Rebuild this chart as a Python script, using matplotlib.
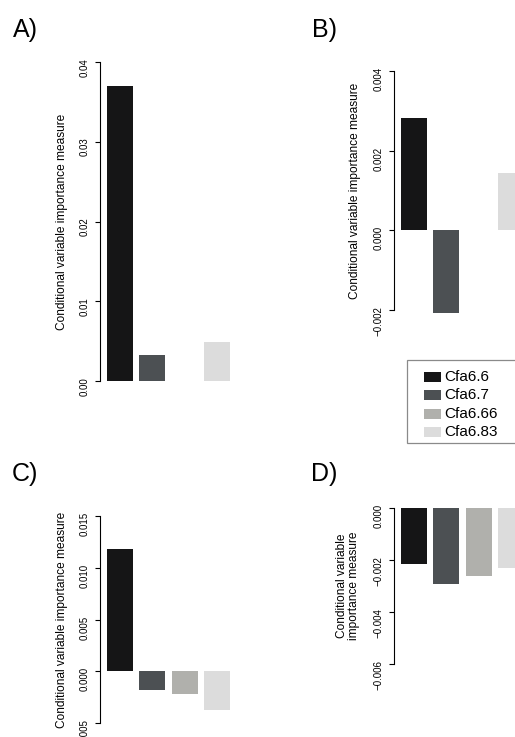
import numpy as np
import matplotlib
matplotlib.use("Agg")
import matplotlib.pyplot as plt
from matplotlib.patches import Rectangle

plt.rcParams["font.family"] = ["Liberation Sans", "DejaVu Sans"]

markers = ["Cfa6.6", "Cfa6.7", "Cfa6.66", "Cfa6.83"]
colors = ["#151516", "#4c5053", "#b0b0ac", "#dcdcdc"]

# conditional importance per marker; nan = marker not in model
vals_a = [0.0370, 0.00326, np.nan, 0.0049]
vals_b = [0.00283, -0.00207, np.nan, 0.00143]
vals_c = [0.0118, -0.0018, -0.0022, -0.00375]
vals_d = [-0.00215, -0.00292, -0.0026, -0.0023]

ticks_a = [0.00, 0.01, 0.02, 0.03, 0.04]
ticks_b = [-0.002, 0.000, 0.002, 0.004]
ticks_c = [-0.005, 0.000, 0.005, 0.010, 0.015]
ticks_d = [-0.006, -0.004, -0.002, 0.000]

W, H = 515, 737
fig = plt.figure(figsize=(W / 100, H / 100), dpi=100)

YLAB = "Conditional variable importance measure"

def fx(px):
    return px / W

def fy(py):
    return 1 - py / H

def panel(left, top, bottom, vals, ticks, fmt, ylab, lab_x):
    width = 136.5
    ax = fig.add_axes([fx(left), fy(bottom), width / W, (bottom - top) / H])
    x = np.arange(len(vals))
    ax.bar(x, vals, width=0.8, color=colors, clip_on=False)
    ax.set_xlim(-0.6, 3.6)
    ax.set_ylim(ticks[0], ticks[-1])
    for s in ["top", "right", "bottom"]:
        ax.spines[s].set_visible(False)
    ax.spines["left"].set_bounds(ticks[0], ticks[-1])
    ax.spines["left"].set_linewidth(0.8)
    ax.set_xticks([])
    ax.set_yticks(ticks)
    ax.set_yticklabels([fmt.format(t).replace("-", "\u2212") for t in ticks])
    ax.tick_params(axis="y", labelrotation=90, length=3.6, width=0.8,
                   labelsize=7, pad=4)
    ax.text((lab_x - left) / width, 0.5, ylab, transform=ax.transAxes,
            rotation=90, ha="center", va="center", fontsize=8.6,
            linespacing=1.1)
    return ax

panel(100, 62, 381, vals_a, ticks_a, "{:.2f}", YLAB, 62)
panel(394, 71, 310, vals_b, ticks_b, "{:.3f}", YLAB, 355)
panel(100, 516, 723, vals_c, ticks_c, "{:.3f}", YLAB, 62)
panel(394, 508, 664, vals_d, ticks_d, "{:.3f}",
      "Conditional variable\nimportance measure", 348)

# panel letters
for letter, (px, py) in {"A)": (13, 37), "B)": (312, 37),
                         "C)": (12, 481), "D)": (311, 481)}.items():
    fig.text(fx(px), fy(py), letter, fontsize=18, ha="left", va="baseline")

# legend box, runs off the right edge
fig.patches.append(Rectangle((fx(407), fy(443)), fx(120), (443 - 360) / H,
                             transform=fig.transFigure, fc="white",
                             ec="#8a8a8a", lw=0.9))
for i, (name, c) in enumerate(zip(markers, colors)):
    cy = 377 + i * 18.3
    fig.patches.append(Rectangle((fx(424), fy(cy + 5)), fx(17), 10 / H,
                                 transform=fig.transFigure, fc=c, ec="none"))
    fig.text(fx(444), fy(cy), name, fontsize=11, ha="left", va="center")

fig.savefig("out.png", dpi=100)
